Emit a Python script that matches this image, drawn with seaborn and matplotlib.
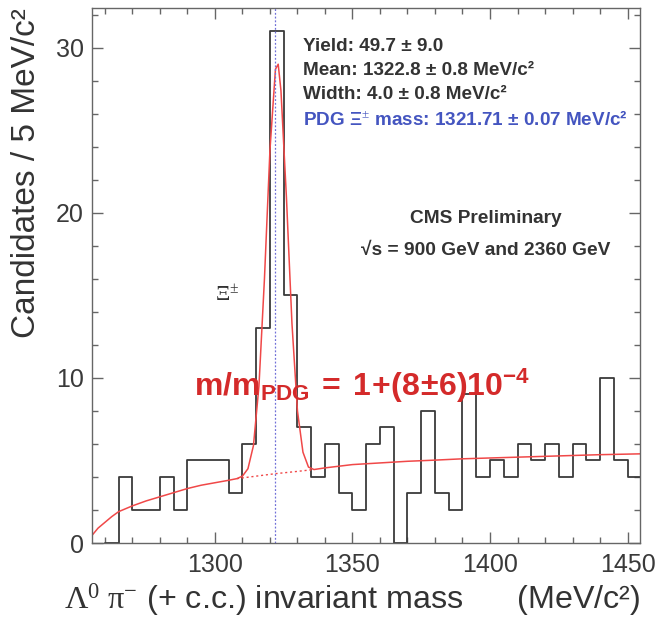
"""
Xi(1321) -> Lambda pi invariant mass, CMS preliminary style
"""

import numpy as np
import pandas as pd
import matplotlib
matplotlib.use('Agg')
import matplotlib.pyplot as plt
from matplotlib.ticker import MultipleLocator
import seaborn as sns

# histogram: 5 MeV bins, low edges
bin_low = [1260, 1265, 1270, 1275, 1280, 1285, 1290, 1295, 1300, 1305, 1310,
           1315, 1320, 1325, 1330, 1335, 1340, 1345, 1350, 1355, 1360,
           1365, 1370, 1375, 1380, 1385, 1390, 1395, 1400, 1405, 1410,
           1415, 1420, 1425, 1430, 1435, 1440, 1445, 1450]
counts = [0, 4, 2, 2, 4, 2, 5, 5, 5, 3, 6,
          13, 31, 15, 7, 4, 6, 3, 2, 6, 7,
          0, 3, 8, 3, 2, 9, 4, 5, 4, 6,
          5, 6, 4, 6, 5, 10, 5, 4]
bin_width = 5

# fit curve (signal + background)
fit_x = [1255.5, 1257.5, 1260, 1262.5, 1265, 1270, 1275, 1280, 1285, 1290,
         1295, 1300, 1305, 1308, 1310, 1312, 1314, 1316, 1318, 1320,
         1322, 1323, 1324, 1326, 1328, 1330, 1332, 1334, 1336, 1340,
         1350, 1360, 1370, 1380, 1390, 1400, 1410, 1420, 1430, 1440, 1454.5]
fit_y = [0.5, 0.9, 1.25, 1.6, 1.9, 2.25, 2.55, 2.8, 3.05, 3.3,
         3.5, 3.65, 3.8, 3.9, 4.05, 4.5, 5.9, 9.5, 16.0, 23.8,
         28.7, 29.0, 27.4, 20.9, 13.3, 8.0, 5.5, 4.6, 4.45, 4.55,
         4.75, 4.85, 4.95, 5.02, 5.1, 5.15, 5.2, 5.25, 5.3, 5.35, 5.4]

# background only under the peak (dotted)
bkg_x = [1308, 1315, 1322, 1329, 1336]
bkg_y = [3.9, 4.05, 4.2, 4.32, 4.45]

pdg_mass = 1321.71

fit_lines = ["Yield: 49.7 ± 9.0",
             "Mean: 1322.8 ± 0.8 MeV/c²",
             "Width: 4.0 ± 0.8 MeV/c²"]
pdg_line = "PDG Ξ$^{\\pm}$ mass: 1321.71 ± 0.07 MeV/c²"

sns.set_style('ticks')
plt.rcParams['font.family'] = ['Liberation Sans', 'DejaVu Sans']
plt.rcParams['mathtext.fontset'] = 'custom'
plt.rcParams['mathtext.rm'] = 'Liberation Serif'
plt.rcParams['mathtext.it'] = 'Liberation Serif:italic'
plt.rcParams['mathtext.bf'] = 'Liberation Sans:bold'

df = pd.DataFrame({'mass': np.array(bin_low) + bin_width / 2, 'n': counts})
edges = list(bin_low) + [bin_low[-1] + bin_width]

fig = plt.figure(figsize=(6.57, 6.22), dpi=100)
ax = fig.add_axes([0.14, 0.127, 0.834, 0.86])

sns.histplot(data=df, x='mass', weights='n', bins=edges, element='step',
             fill=False, color='#3a3a3a', linewidth=1.3, ax=ax)

# background (dotted) and total fit
ax.plot(bkg_x, bkg_y, color='#f04848', lw=1.0, ls=(0, (1.5, 2)))
sns.lineplot(x=fit_x, y=fit_y, color='#f04848', lw=1.1, ax=ax, sort=False)

ax.axvline(pdg_mass, color='#7070d8', lw=0.9, ls=(0, (1.5, 1.5)))

ax.set_xlim(1255.3, 1454.5)
ax.set_ylim(0, 32.4)

ax.xaxis.set_major_locator(MultipleLocator(50))
ax.xaxis.set_minor_locator(MultipleLocator(10))
ax.yaxis.set_major_locator(MultipleLocator(10))
ax.yaxis.set_minor_locator(MultipleLocator(2))
ax.tick_params(which='both', direction='in', top=True, right=True,
               color='#666666', labelcolor='#3a3a3a', labelsize=18)
ax.tick_params(which='major', length=8, width=1)
ax.tick_params(which='minor', length=4.5, width=1)
ax.tick_params(axis='x', pad=7)
ax.tick_params(axis='y', pad=6)
for sp in ax.spines.values():
    sp.set_color('#666666')
    sp.set_linewidth(1.0)

ax.set_ylabel('Candidates / 5 MeV/c²', fontsize=24, color='#333333', loc='top')
ax.yaxis.set_label_coords(-0.092, 1.0)
ax.set_xlabel('$\\Lambda^{0}\\ \\mathrm{\\pi}^{-}$ (+ c.c.) invariant mass      (MeV/c²)',
              fontsize=23.2, color='#333333', loc='right')
ax.xaxis.set_label_coords(1.0, -0.072)

# fit results
for i, line in enumerate(fit_lines):
    ax.text(0.385, 0.929 - i * 0.0455, line, transform=ax.transAxes,
            fontsize=13.6, fontweight='bold', color='#333333', va='center')
ax.text(0.385, 0.929 - 3 * 0.0455, pdg_line, transform=ax.transAxes,
        fontsize=13.6, fontweight='bold', color='#4455c0', va='center')

ax.text(0.719, 0.606, 'CMS Preliminary', transform=ax.transAxes,
        fontsize=13.8, fontweight='bold', color='#333333', ha='center', va='center')
ax.text(0.719, 0.546, '√s = 900 GeV and 2360 GeV', transform=ax.transAxes,
        fontsize=13.8, fontweight='bold', color='#333333', ha='center', va='center')

ax.text(1304.5, 15.0, '$\\Xi^{\\pm}$', fontsize=16, color='#333333',
        ha='center', va='center')

ax.text(1292.3, 9.5, '$\\mathbf{m/m_{PDG}\\ =\\ 1\\!+\\!(8\\!\\pm\\!6)10^{-4}}$',
        fontsize=23, color='#d42a2a', ha='left', va='center')

fig.savefig('out.png', dpi=100)
plt.close(fig)
